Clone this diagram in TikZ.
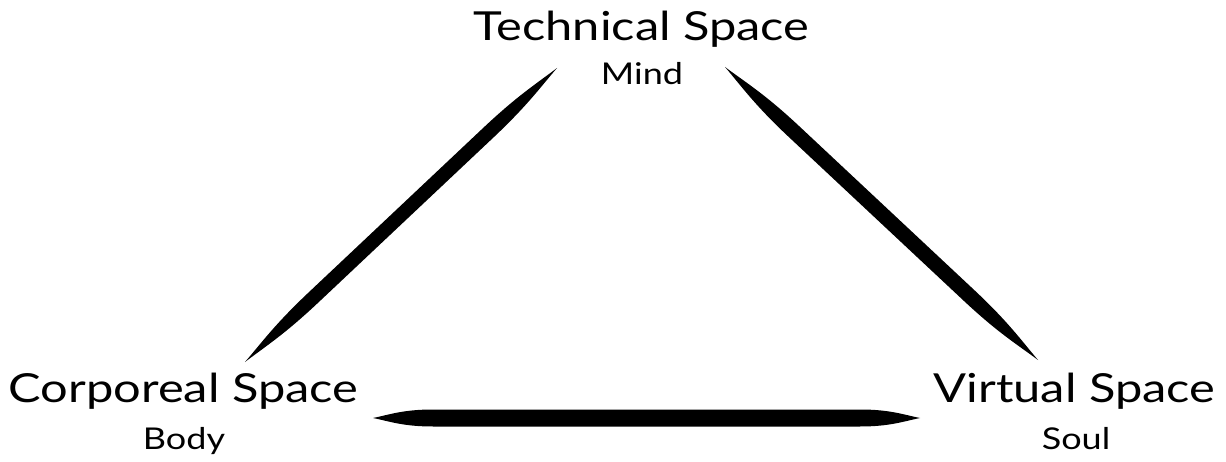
\documentclass[tikz,border=0pt]{standalone}
\usepackage{fontspec}
\setmainfont{Lato}
\newfontfamily\bigfont[FakeStretch=1.22]{Lato}
\newfontfamily\smallfont[FakeStretch=1.2]{Lato}
\usetikzlibrary{calc}
\newcommand\blade[4]{% #1 tip A, #2 tip B, #3 half width (pt), #4 taper length (pt)
  \pgfmathsetlengthmacro\bladeTa{0.28*#4}%
  \pgfmathsetlengthmacro\bladeTb{0.5*#4}%
  \pgfmathsetlengthmacro\bladeWa{0.4*#3}%
  \fill[black] (#1)
   .. controls ($(#1)!\bladeTa!(#2)!\bladeWa!90:(#2)$) and ($(#1)!\bladeTb!(#2)!#3pt!90:(#2)$) .. ($(#1)!#4pt!(#2)!#3pt!90:(#2)$)
   -- ($(#2)!#4pt!(#1)!#3pt!-90:(#1)$)
   .. controls ($(#2)!\bladeTb!(#1)!#3pt!-90:(#1)$) and ($(#2)!\bladeTa!(#1)!\bladeWa!-90:(#1)$) .. (#2)
   .. controls ($(#2)!\bladeTa!(#1)!\bladeWa!90:(#1)$) and ($(#2)!\bladeTb!(#1)!#3pt!90:(#1)$) .. ($(#2)!#4pt!(#1)!#3pt!90:(#1)$)
   -- ($(#1)!#4pt!(#2)!#3pt!-90:(#2)$)
   .. controls ($(#1)!\bladeTb!(#2)!#3pt!-90:(#2)$) and ($(#1)!\bladeTa!(#2)!\bladeWa!-90:(#2)$) .. (#1) -- cycle;
}
\tikzset{
  bigtxt/.style={inner sep=0pt, anchor=base, font=\bigfont\fontsize{40}{45}\selectfont},
  smalltxt/.style={inner sep=0pt, anchor=base, font=\smallfont\fontsize{30}{34}\selectfont}
}
\begin{document}
\begin{tikzpicture}[x=1pt,y=-1pt]
\fill[white] (0,0) rectangle (1226,462);
\useasboundingbox (0,0) rectangle (1226,462);
\node[bigtxt] (tech) at (641.5,41) {Technical Space};
\node[smalltxt] (mind) at (642,85) {Mind};
\node[bigtxt] (corp) at (183.5,402) {Corporeal Space};
\node[smalltxt] (body) at (184,449) {Body};
\node[bigtxt] (virt) at (1074.5,402) {Virtual Space};
\node[smalltxt] (soul) at (1076,449) {Soul};
\coordinate (l1) at (245,362);
\coordinate (l2) at (557,68);
\coordinate (r1) at (725,67);
\coordinate (r2) at (1038,360);
\coordinate (b1) at (373,418);
\coordinate (b2) at (920,418);
\blade{l1}{l2}{7}{95}
\blade{r1}{r2}{7.5}{95}
\blade{b1}{b2}{8.5}{60}
\end{tikzpicture}
\end{document}
